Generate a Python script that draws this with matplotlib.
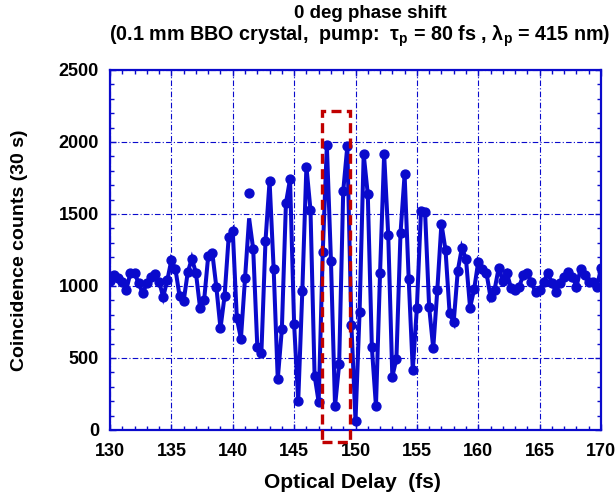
import numpy as np
import matplotlib
matplotlib.use("Agg")
import matplotlib.pyplot as plt
from matplotlib.patches import Rectangle
from matplotlib.ticker import MultipleLocator

plt.rcParams['font.family'] = ['Liberation Sans', 'DejaVu Sans']
plt.rcParams['mathtext.fontset'] = 'custom'
plt.rcParams['mathtext.rm'] = 'Liberation Sans:bold'
plt.rcParams['mathtext.bf'] = 'Liberation Sans:bold'
plt.rcParams['mathtext.it'] = 'Liberation Sans:bold'

# ---- data ----
delay_start = 130.0
delay_step = 1.0 / 3.0
counts = [
    1037, 1076, 1055,   # 130
    1030, 975, 1092,    # 131
    1088, 1020, 950,    # 132
    1020, 1060, 1081,   # 133
    1030, 925, 1040,    # 134
    1180, 1116, 930,    # 135
    895, 1095, 1190,    # 136
    1092, 850, 900,     # 137
    1208, 1231, 990,    # 138
    706, 930, 1338,     # 139
    1385, 775, 635,     # 140
    1053, 1644, 1255,   # 141
    579, 537, 1312,     # 142
    1729, 1116, 353,    # 143
    699, 1576, 1741,    # 144
    734, 200, 965,      # 145
    1829, 1528, 378,    # 146
    193, 1238, 1979,    # 147
    1175, 165, 456,     # 148
    1660, 1970, 726,    # 149
    64, 820, 1915,      # 150
    1638, 573, 165,     # 151
    1090, 1915, 1354,   # 152
    370, 495, 1366,     # 153
    1775, 1048, 417,    # 154
    850, 1520, 1516,    # 155
    853, 567, 975,      # 156
    1433, 1250, 810,    # 157
    750, 1107, 1265,    # 158
    1188, 850, 977,     # 159
    1170, 1120, 1092,   # 160
    921, 975, 1127,     # 161
    1035, 1088, 988,    # 162
    972, 995, 1076,     # 163
    1090, 1025, 956,    # 164
    972, 1030, 1088,    # 165
    1023, 960, 1023,    # 166
    1065, 1100, 1065,   # 167
    995, 1116, 1076,    # 168
    1030, 1030, 995,    # 169
    1123,               # 170
]
# the connecting curve does not reach the stray point at 141.33 fs
curve_index_stray = 34
curve_value_stray = 1470

# highlighted region (red dashed box)
box_x = [147.28, 149.53]
box_y = [-85, 2215]

x_ticks = [130, 135, 140, 145, 150, 155, 160, 165, 170]
y_ticks = [0, 500, 1000, 1500, 2000, 2500]

delay = delay_start + delay_step * np.arange(len(counts))
curve = np.array(counts, dtype=float)
curve[curve_index_stray] = curve_value_stray

blue = '#0a0acc'
W, H = 616, 499
fig = plt.figure(figsize=(W / 100, H / 100), dpi=100)
ax = fig.add_axes([110 / W, 1 - 430 / H, (601 - 110) / W, (430 - 70) / H])

ax.plot(delay, curve, color=blue, lw=2.9, solid_joinstyle='miter', zorder=3)
ax.plot(delay, counts, 'o', color=blue, ms=6.4, zorder=4)

ax.add_patch(Rectangle((box_x[0], box_y[0]), box_x[1] - box_x[0], box_y[1] - box_y[0],
                       fill=False, edgecolor='#c00000', lw=2.4, ls=(0, (3, 1.6)),
                       clip_on=False, zorder=5))

ax.set_xlim(130, 170)
ax.set_ylim(0, 2500)
ax.set_xticks(x_ticks)
ax.set_yticks(y_ticks)
ax.xaxis.set_minor_locator(MultipleLocator(1))
ax.yaxis.set_minor_locator(MultipleLocator(100))
ax.tick_params(which='both', direction='in', top=True, right=True, color=blue, width=1.0)
ax.tick_params(which='major', length=4, labelsize=13)
ax.tick_params(axis='x', which='major', pad=9)
ax.tick_params(axis='y', which='major', pad=8)
ax.tick_params(which='minor', length=3)
for lab in ax.get_xticklabels() + ax.get_yticklabels():
    lab.set_fontweight('bold')
for sp in ax.spines.values():
    sp.set_color(blue)
    sp.set_linewidth(1.6)
ax.grid(True, which='major', color=blue, lw=0.8, ls=(0, (5, 2, 1, 2)))
ax.set_axisbelow(True)

ax.set_xlabel('Optical Delay  (fs)', fontsize=15, fontweight='bold', va='center')
ax.xaxis.set_label_coords((352 - 110) / 491, (430 - 483) / 360)
ax.set_ylabel('Coincidence counts (30 s)', fontsize=14, fontweight='bold', va='center')
ax.yaxis.set_label_coords((20 - 110) / 491, 0.5)

fig.text(370 / W, 1 - 14 / H, '0 deg phase shift', ha='center', va='center',
         fontsize=13.5, fontweight='bold')
fig.text(360 / W, 1 - 36 / H,
         r'(0.1 mm BBO crystal,  pump:  τ$_\mathbf{p}$ = 80 fs , λ$_\mathbf{p}$ = 415 nm)',
         ha='center', va='center', fontsize=14.2, fontweight='bold')

fig.savefig('out.png', dpi=100)
